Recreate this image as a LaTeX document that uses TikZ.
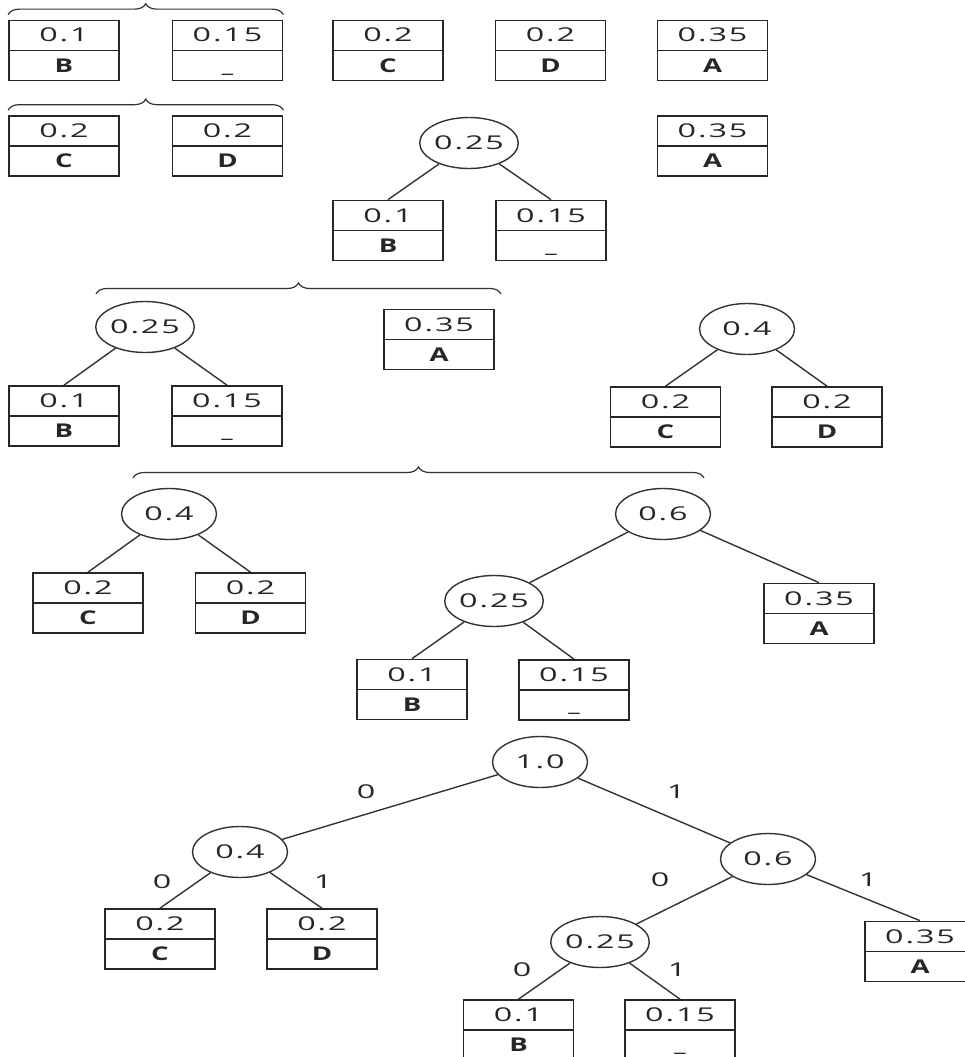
\documentclass[tikz,border=0pt]{standalone}
\usepackage{fontspec}
\setmainfont{Open Sans}[FakeStretch=1.7, LetterSpace=10]
\newfontfamily\letfont{Open Sans}[FakeStretch=1.45]
\usetikzlibrary{shapes.geometric, decorations.pathreplacing}
\newcommand\leafnode[5]{%
  \node[leaf] (#1) at (#2,#3) {};
  \draw[divider] (#1.west) -- (#1.east);
  \node[num] (#1n) at ([yshift=8.5pt]#1.center) {#4};
  \node[lett] (#1l) at ([yshift=-21.5pt]#1.center) {#5};
}
\begin{document}
\begin{tikzpicture}[x=1pt,y=-1pt,
  txt/.style={font=\fontsize{19}{22}\selectfont, text=black!85},
  leaf/.style={draw=black!85, line width=1.7pt, minimum width=110pt, minimum height=60pt, inner sep=0pt},
  divider/.style={draw=black!85, line width=1.4pt},
  num/.style={txt, anchor=base, inner sep=0pt},
  lett/.style={txt, anchor=base, inner sep=0pt, font=\fontsize{19}{22}\selectfont\letfont\bfseries},
  sum/.style={txt, ellipse, draw=black!80, line width=1.4pt, minimum width=95pt, minimum height=51pt, inner sep=0pt},
  conn/.style={draw=black!80, line width=1.4pt},
  bit/.style={txt, inner sep=0pt},
  brc/.style={decorate, decoration={brace, amplitude=11pt}, draw=black!80, line width=1.2pt}
]
\path[use as bounding box] (0,0) rectangle (965,1057);
\clip (0,0) rectangle (965,1057);

% ---- Row 1
\leafnode{raB}{64}{50.5}{0.1}{B}
\leafnode{raU}{227.5}{50.5}{0.15}{\_}
\leafnode{raC}{388}{50.5}{0.2}{C}
\leafnode{raD}{550.5}{50.5}{0.2}{D}
\leafnode{raA}{712.5}{50.5}{0.35}{A}
\draw[brc] ([yshift=5pt]raB.north west) -- ([yshift=5pt]raU.north east);

% ---- Row 2
\leafnode{rbC}{64}{146}{0.2}{C}
\leafnode{rbD}{227.5}{146}{0.2}{D}
\leafnode{rbA}{712.5}{146}{0.35}{A}
\draw[brc] ([yshift=5pt]rbC.north west) -- ([yshift=5pt]rbD.north east);
\node[sum] (eb) at (469,143) {0.25};
\leafnode{rbB}{388}{230.5}{0.1}{B}
\leafnode{rbU}{551}{230.5}{0.15}{\_}
\draw[conn] (eb) -- (rbB.north);
\draw[conn] (eb) -- (rbU.north);

% ---- Row 3
\node[sum] (eca) at (145,327) {0.25};
\leafnode{rcB}{64}{416}{0.1}{B}
\leafnode{rcU}{227}{416}{0.15}{\_}
\draw[conn] (eca) -- (rcB.north);
\draw[conn] (eca) -- (rcU.north);
\leafnode{rcA}{439}{339.5}{0.35}{A}
\draw[brc] (96,294) -- (501,294);
\node[sum] (ecb) at (747,329) {0.4};
\leafnode{rcC}{665.5}{417}{0.2}{C}
\leafnode{rcD}{827}{417}{0.2}{D}
\draw[conn] (ecb) -- (rcC.north);
\draw[conn] (ecb) -- (rcD.north);

% ---- Row 4
\draw[brc] (133,478) -- (704,478);
\node[sum] (eda) at (169,514) {0.4};
\leafnode{rdC}{88}{603}{0.2}{C}
\leafnode{rdD}{250.5}{603}{0.2}{D}
\draw[conn] (eda) -- (rdC.north);
\draw[conn] (eda) -- (rdD.north);
\node[sum] (edb) at (663,514) {0.6};
\node[sum] (edc) at (494,601) {0.25};
\leafnode{rdA}{819}{613.5}{0.35}{A}
\leafnode{rdB}{412}{689.5}{0.1}{B}
\leafnode{rdU}{574}{690}{0.15}{\_}
\draw[conn] (edb) -- (edc);
\draw[conn] (edb) -- (rdA.north);
\draw[conn] (edc) -- (rdB.north);
\draw[conn] (edc) -- (rdU.north);

% ---- Row 5 (final tree)
\node[sum] (ee) at (540,762) {1.0};
\node[sum] (eea) at (240,852) {0.4};
\node[sum] (eeb) at (768,859) {0.6};
\node[sum] (eec) at (600,942) {0.25};
\leafnode{reC}{160}{939}{0.2}{C}
\leafnode{reD}{322}{939}{0.2}{D}
\leafnode{reA}{920}{951.5}{0.35}{A}
\leafnode{reB}{518.5}{1030}{0.1}{B}
\leafnode{reU}{680}{1030}{0.15}{\_}
\draw[conn] (ee) -- (eea);
\draw[conn] (ee) -- (eeb);
\draw[conn] (eea) -- (reC.north);
\draw[conn] (eea) -- (reD.north);
\draw[conn] (eeb) -- (eec);
\draw[conn] (eeb) -- (reA.north);
\draw[conn] (eec) -- (reB.north);
\draw[conn] (eec) -- (reU.north);
\node[bit] (b1) at (366,792) {0};
\node[bit] (b2) at (676,792) {1};
\node[bit] (b3) at (162,882) {0};
\node[bit] (b4) at (323,882) {1};
\node[bit] (b5) at (660,880) {0};
\node[bit] (b6) at (868,880) {1};
\node[bit] (b7) at (522,970) {0};
\node[bit] (b8) at (677,970) {1};
\end{tikzpicture}
\end{document}
